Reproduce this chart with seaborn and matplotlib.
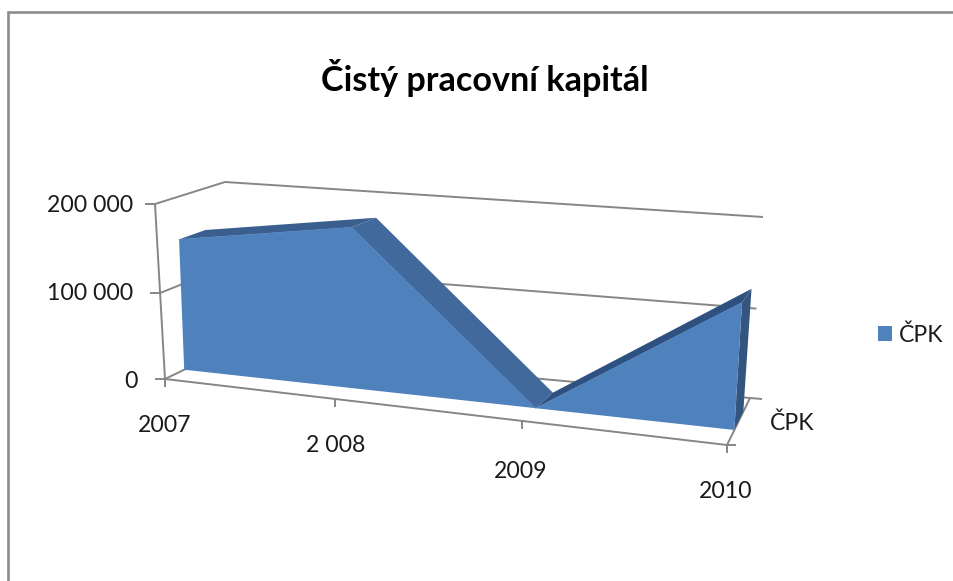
import numpy as np
import matplotlib
matplotlib.use("Agg")
import matplotlib.pyplot as plt
import seaborn as sns
from matplotlib.patches import Patch
from matplotlib.transforms import Transform

years = ["2007", "2 008", "2009", "2010"]
capital = [152000, 180000, 0, 133000]
value_ticks = [0, 100000, 200000]
value_labels = ["0", "100 000", "200 000"]
series_name = "ČPK"
chart_title = "Čistý pracovní kapitál"

FACE = "#4F81BD"
GRID = "#868686"
FONT = ["Lato", "DejaVu Sans"]

sns.set_theme(style="white")
plt.rcParams["font.family"] = FONT


def homography(src, dst):
    rows, rhs = [], []
    for (x, y), (u, v) in zip(src, dst):
        rows.append([x, y, 1, 0, 0, 0, -u * x, -u * y]); rhs.append(u)
        rows.append([0, 0, 0, x, y, 1, -v * x, -v * y]); rhs.append(v)
    return np.append(np.linalg.solve(np.array(rows, float), np.array(rhs, float)), 1).reshape(3, 3)


n_cat = len(years) - 1
vmax = max(value_ticks)
# value space: x = category position, y = value / vmax
unit = [(0, 0), (n_cat, 0), (n_cat, 1), (0, 1)]
H_front = homography(unit, [(165, 379), (727, 445), (738, 245), (155, 204)])
H_back = homography(unit, [(225, 350), (750, 398), (763, 217), (225, 182)])


class WallTransform(Transform):
    """Category / value coordinates on a vertical plane at a given chart depth."""
    input_dims = output_dims = 2
    has_inverse = False

    def __init__(self, chart_depth):
        super().__init__()
        self.chart_depth = chart_depth

    def transform_non_affine(self, values):
        v = np.asarray(values, float)
        pts = np.column_stack([v[:, 0], v[:, 1] / vmax, np.ones(len(v))])
        out = []
        for H in (H_front, H_back):
            p = pts @ H.T
            out.append(p[:, :2] / p[:, 2:])
        return (1 - self.chart_depth) * out[0] + self.chart_depth * out[1]


fig = plt.figure(figsize=(9.54, 5.81), dpi=100)
ax = fig.add_axes([0, 0, 1, 1])

front_w, back_w = WallTransform(0.0), WallTransform(1.0)
face_d, rear_d = WallTransform(0.32), WallTransform(0.71)
pos = np.arange(len(years), dtype=float)
vals = np.array(capital, float)
lw_grid = 1.4
line = dict(color=GRID, lw=lw_grid, solid_capstyle="butt", zorder=1)


def px(tf, x, y):
    return tf.transform(np.array([[x, y]], float))[0]


def seg(a, b, **kw):
    ax.plot([a[0], b[0]], [a[1], b[1]], **{**line, **kw})


# outer chart frame
ax.plot([8, 8, 954], [581, 12, 12], color="#8C8C8C", lw=1.9, solid_joinstyle="miter", zorder=1)

# walls and gridlines
for v in value_ticks:
    a, b, c = px(front_w, 0, v), px(back_w, 0, v), px(back_w, n_cat, v)
    ax.plot([a[0], b[0], c[0]], [a[1], b[1], c[1]], **line)
    seg(a + np.array([-10, 0]), a)
seg(px(front_w, 0, 0), px(front_w, 0, vmax))
seg(px(front_w, 0, 0), px(front_w, n_cat, 0))
seg(px(front_w, n_cat, 0), px(back_w, n_cat, 0))
seg(px(back_w, n_cat, 0), px(back_w, n_cat, 0) + np.array([12, 1]))
seg(px(front_w, n_cat, 0), px(front_w, n_cat, 0) + np.array([9, 0]))
for p in pos:
    a = px(front_w, p, 0)
    seg(a, a + np.array([0, 8]))

# extruded sides of the area
shades = ["#3A5F8F", "#41699C", "#2F5180"]
for i in range(len(pos) - 1):
    quad = np.vstack([
        px(face_d, pos[i], vals[i]), px(rear_d, pos[i], vals[i]),
        px(rear_d, pos[i + 1], vals[i + 1]), px(face_d, pos[i + 1], vals[i + 1]),
    ])
    ax.fill(quad[:, 0], quad[:, 1], color=shades[i], lw=0, zorder=2)
end = np.vstack([
    px(face_d, pos[-1], vals[-1]), px(rear_d, pos[-1], vals[-1]),
    px(rear_d, pos[-1], 0), px(face_d, pos[-1], 0),
])
ax.fill(end[:, 0], end[:, 1], color="#33557F", lw=0, zorder=2)

# front face of the area
ax.fill(np.r_[pos, pos[-1], pos[0]], np.r_[vals, 0, 0], color=FACE, lw=0, zorder=3,
        transform=face_d + ax.transData)
sns.lineplot(x=pos, y=vals, ax=ax, color=FACE, lw=0.5, sort=False, errorbar=None,
             legend=False, zorder=3, transform=face_d + ax.transData)

ax.set_xlim(0, 954)
ax.set_ylim(581, 0)
ax.axis("off")

# texts
ax.text(484.5, 78, chart_title, ha="center", va="center", fontsize=24.6, fontweight="bold", color="black")
tick_size = 16.6
for label, xy in zip(value_labels, [(138, 381), (133, 293), (133, 206)]):
    ax.text(*xy, label, ha="right", va="center", fontsize=tick_size, color="#1a1a1a")
for label, xy in zip(years, [(165, 425), (336, 446), (521, 471), (726, 491)]):
    ax.text(*xy, label, ha="center", va="center", fontsize=tick_size, color="#1a1a1a")
ax.text(792, 423, series_name, ha="center", va="center", fontsize=tick_size, color="#1a1a1a")

ax.legend(handles=[Patch(facecolor=FACE, edgecolor="none", label=series_name)],
          loc="center left", bbox_to_anchor=(871, 335), bbox_transform=ax.transData,
          frameon=False, fontsize=tick_size, handlelength=0.6, handleheight=0.6,
          handletextpad=0.3, borderpad=0.3, borderaxespad=0, labelcolor="#1a1a1a")

fig.savefig("out.png", dpi=100, facecolor="white")
